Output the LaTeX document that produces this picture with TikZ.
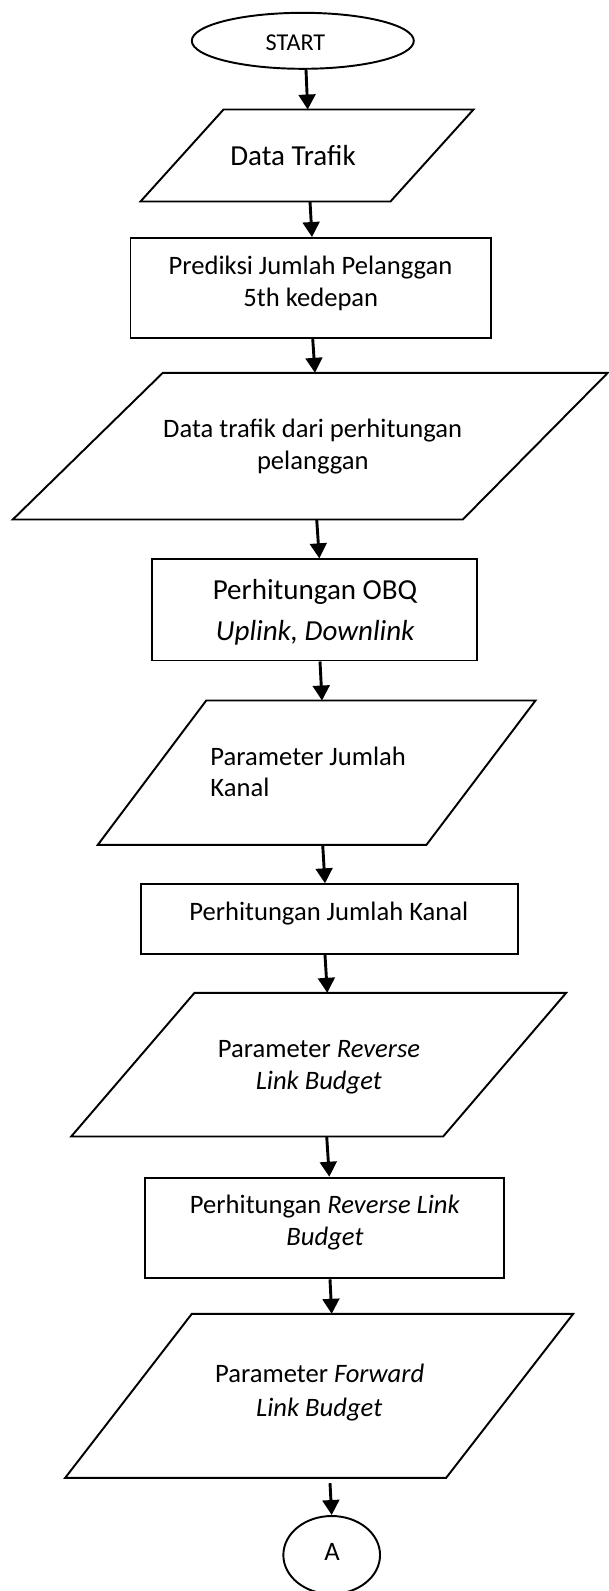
\documentclass[tikz,border=0pt]{standalone}
\usepackage{fontspec}
\setmainfont{Carlito}
\usetikzlibrary{shapes.geometric,arrows.meta}
\def\u{0.4135pt}
\tikzset{
  shapeline/.style={draw=black, line width=0.8pt},
  boxnode/.style={shapeline, rectangle, inner sep=0pt},
  hidden/.style={inner sep=0pt},
  txt/.style={inner sep=0pt, anchor=base, font=\fontsize{11pt}{13pt}\selectfont},
  txtbig/.style={inner sep=0pt, anchor=base, font=\fontsize{12pt}{14pt}\selectfont},
  flow/.style={line width=1.2pt, -{Triangle[width=6.9pt,length=6.2pt]}},
}
\begin{document}
\begin{tikzpicture}[x=0.4135pt, y=-0.4135pt]
\useasboundingbox (0,0) rectangle (608,1591);

% START
\node[shapeline, ellipse, inner sep=0pt, minimum width=222*\u, minimum height=56*\u] (start) at (302.8,40.8) {};
\node[txt, font=\fontsize{10pt}{12pt}\selectfont] (tstart) at (295.5,50) {START};

% P1 Data Trafik
\node[hidden, minimum width=332*\u, minimum height=91*\u] (P1) at (307,155.5) {};
\draw[shapeline] ([xshift=83*\u]P1.north west) -- (P1.north east) -- ([xshift=-83*\u]P1.south east) -- (P1.south west) -- cycle;
\node[txtbig] (t1) at (293,165.7) {Data Trafik};

% R1 Prediksi
\node[boxnode, minimum width=360.2*\u, minimum height=99.7*\u] (R1) at (310.6,287.85) {};
\node[txt] (t2a) at (310.5,274) {Prediksi Jumlah Pelanggan};
\node[txt] (t2b) at (310.8,306) {5th kedepan};

% P2
\node[hidden, minimum width=594*\u, minimum height=145.7*\u] (P2) at (310.3,446.15) {};
\draw[shapeline] ([xshift=150*\u]P2.north west) -- (P2.north east) -- ([xshift=-145*\u]P2.south east) -- (P2.south west) -- cycle;
\node[txt] (t3a) at (312.7,437.5) {Data trafik dari perhitungan};
\node[txt] (t3b) at (312.8,469.5) {pelanggan};

% R2 OBQ
\node[boxnode, minimum width=325*\u, minimum height=101.2*\u] (R2) at (314.2,609.9) {};
\node[txtbig] (t4a) at (315,599) {Perhitungan OBQ};
\node[txtbig] (t4b) at (315.2,640) {\itshape Uplink, Downlink};

% P3
\node[hidden, minimum width=436.7*\u, minimum height=143.3*\u] (P3) at (316.65,772.65) {};
\draw[shapeline] ([xshift=108.4*\u]P3.north west) -- (P3.north east) -- ([xshift=-109*\u]P3.south east) -- (P3.south west) -- cycle;
\node[txt, anchor=base west] (t5a) at (210,765) {Parameter Jumlah};
\node[txt, anchor=base west] (t5b) at (210,796.7) {Kanal};

% R3
\node[boxnode, minimum width=376.7*\u, minimum height=69.7*\u] (R3) at (329.35,919.15) {};
\node[txt] (t6) at (328.8,920.7) {Perhitungan Jumlah Kanal};

% P4
\node[hidden, minimum width=494*\u, minimum height=142.7*\u] (P4) at (318.7,1064.65) {};
\draw[shapeline] ([xshift=123.3*\u]P4.north west) -- (P4.north east) -- ([xshift=-123*\u]P4.south east) -- (P4.south west) -- cycle;
\node[txt] (t7a) at (319,1057.7) {Parameter \textit{Reverse}};
\node[txt] (t7b) at (318.8,1089.3) {\textit{Link Budget}};

% R4
\node[boxnode, minimum width=359.3*\u, minimum height=100.6*\u] (R4) at (324.65,1228) {};
\node[txt] (t8a) at (325,1213.3) {Perhitungan \textit{Reverse Link}};
\node[txt] (t8b) at (325,1245) {\textit{Budget}};

% P5
\node[hidden, minimum width=507*\u, minimum height=163*\u] (P5) at (319.2,1395.8) {};
\draw[shapeline] ([xshift=126.6*\u]P5.north west) -- (P5.north east) -- ([xshift=-127*\u]P5.south east) -- (P5.south west) -- cycle;
\node[txt] (t9a) at (319.7,1382.7) {Parameter \textit{Forward}};
\node[txt] (t9b) at (319.2,1416) {\textit{Link Budget}};

% Connector A
\node[shapeline, ellipse, inner sep=0pt, minimum width=96.7*\u, minimum height=78*\u] (A) at (331.7,1555) {};
\node[txt] (tA) at (332,1560.7) {A};

% arrows
\draw[flow] ([xshift=3.2*\u]start.south) -- ([xshift=0.7*\u]P1.north);
\draw[flow] ([xshift=3*\u]P1.south) -- ([xshift=1.4*\u]R1.north);
\draw[flow] ([xshift=2.1*\u]R1.south) -- ([xshift=4.7*\u]P2.north);
\draw[flow] ([xshift=6.4*\u]P2.south) -- ([xshift=5.1*\u]R2.north);
\draw[flow] ([xshift=5.8*\u]R2.south) -- ([xshift=5.35*\u]P3.north);
\draw[flow] ([xshift=6.05*\u]P3.south) -- ([xshift=-4.35*\u]R3.north);
\draw[flow] ([xshift=-4.35*\u]R3.south) -- ([xshift=8.6*\u]P4.north);
\draw[flow] ([xshift=8*\u]P4.south) -- ([xshift=4.65*\u]R4.north);
\draw[flow] ([xshift=5.35*\u]R4.south) -- ([xshift=12.5*\u]P5.north);
\draw[flow] ([xshift=10.8*\u,yshift=-5.4*\u]P5.south) -- (A.north);
\end{tikzpicture}
\end{document}
